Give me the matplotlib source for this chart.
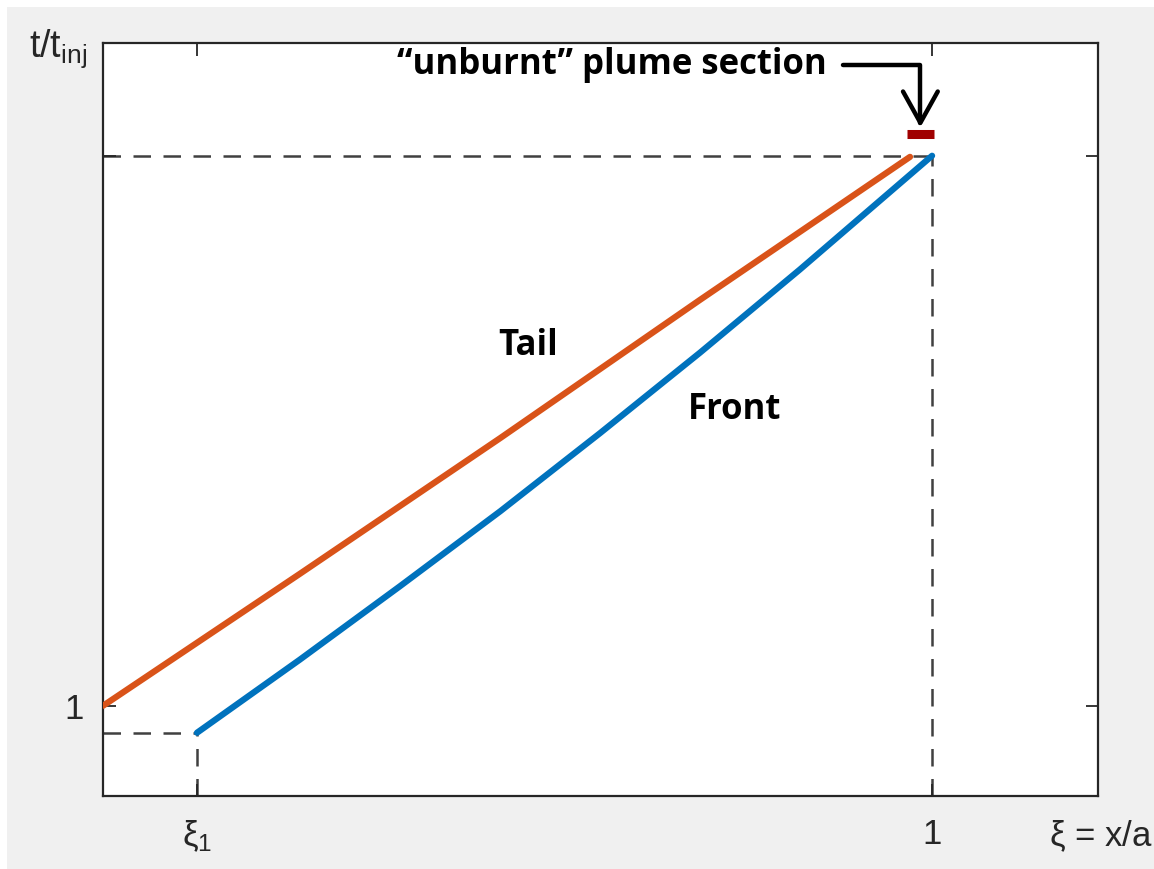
import matplotlib.pyplot as plt
from matplotlib.patches import Rectangle

plt.rcParams['mathtext.fontset'] = 'custom'
plt.rcParams['mathtext.rm'] = 'Liberation Sans'
plt.rcParams['mathtext.it'] = 'Liberation Sans:italic'

# curves (xi = x/a, t/t_inj)
xi1 = 0.3
front_x = [0.300, 0.398, 0.493, 0.589, 0.684, 0.779, 0.874, 1.000]
front_t = [0.951, 1.084, 1.217, 1.354, 1.496, 1.642, 1.793, 2.000]
tail_x = [0.2105, 0.398, 0.589, 0.779, 0.979]
tail_t = [1.000, 1.240, 1.487, 1.738, 1.998]
t_end = 2.0
unburnt_x = [0.976, 1.002]
unburnt_t = 2.039

xticks = [xi1, 1.0]
xticklabels = [r'$\mathregular{\xi_1}$', '1']
yticks = [1.0, t_end]
yticklabels = ['1', '']

fig = plt.figure(figsize=(11.54, 8.69), dpi=100, facecolor='white')
fig.patches.append(Rectangle((7 / 1154, 0), 1, (869 - 7) / 869,
                             transform=fig.transFigure, facecolor='#f0f0f0',
                             edgecolor='none', zorder=-10))
ax = fig.add_axes([103 / 1154, 73 / 869, 995 / 1154, 753 / 869])
ax.set_facecolor('white')

dash = dict(color='#404040', lw=1.8, dashes=(7, 5), zorder=1)
ax.plot([0.2105, 1.0], [t_end, t_end], **dash)
ax.plot([1.0, 1.0], [0.836, t_end], **dash)
ax.plot([0.2105, xi1], [front_t[0], front_t[0]], **dash)
ax.plot([xi1, xi1], [0.836, front_t[0]], **dash)

ax.plot(tail_x, tail_t, color='#D95319', lw=4.5, solid_capstyle='round',
        solid_joinstyle='round', zorder=3)
ax.plot(front_x, front_t, color='#0072BD', lw=4.5, solid_capstyle='round',
        solid_joinstyle='round', zorder=3)
ax.plot(unburnt_x, [unburnt_t, unburnt_t], color='#a00000', lw=6.5,
        solid_capstyle='butt', zorder=4)

ax.set_xlim(0.2105, 1.158)
ax.set_ylim(0.836, 2.205)
ax.set_xticks(xticks)
ax.set_xticklabels(xticklabels)
ax.set_yticks(yticks)
ax.set_yticklabels(yticklabels)
ax.tick_params(direction='in', length=9, width=1.3, color='#262626',
               top=True, right=True, labelsize=25, labelcolor='#262626')
ax.tick_params(axis='x', pad=16)
ax.tick_params(axis='y', pad=14)
for lab in ax.get_xticklabels() + ax.get_yticklabels():
    lab.set_fontfamily('Liberation Sans')
for s in ax.spines.values():
    s.set_color('#262626')
    s.set_linewidth(1.6)

bold = dict(family='Open Sans', weight='bold', fontsize=25, color='black')
ax.text(0.427, 0.598, 'Tail', transform=ax.transAxes, ha='center', va='center', **bold)
ax.text(0.635, 0.513, 'Front', transform=ax.transAxes, ha='center', va='center', **bold)
ax.annotate('\u201cunburnt\u201d plume section', xy=(0.8215, 0.888),
            xytext=(0.727, 0.971), xycoords='axes fraction', textcoords='axes fraction',
            ha='right', va='center', **bold,
            arrowprops=dict(arrowstyle='->,head_length=0.9,head_width=0.5', lw=3.2,
                            color='black', shrinkA=10, shrinkB=0,
                            connectionstyle='angle,angleA=0,angleB=90,rad=0'))

fig.text(1153 / 1154, 0.038, r'$\mathregular{\xi}$ = x/a', ha='right', va='center',
         fontsize=25, family='Liberation Sans', color='#262626')
fig.text(0.050, 0.944, r'$\mathregular{t/t_{inj}}$', ha='center', va='center',
         fontsize=27, family='Liberation Sans', color='#262626')

fig.savefig('out.png', dpi=100, facecolor=fig.get_facecolor())
